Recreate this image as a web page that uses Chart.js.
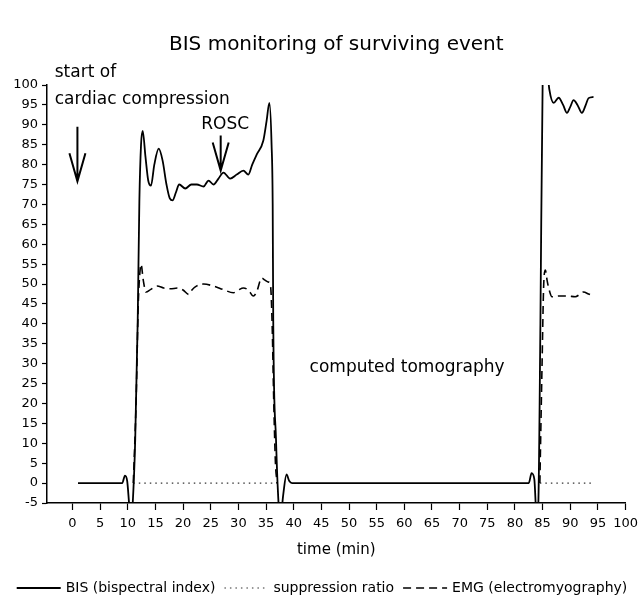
<!DOCTYPE html>
<html>
<head>
<meta charset="utf-8">
<script src="https://cdn.jsdelivr.net/npm/chart.js@4.4.1/dist/chart.umd.min.js"></script>
<style>
  html, body { margin: 0; padding: 0; background: #fff; }
  #wrap { width: 644px; height: 599px; }
</style>
</head>
<body>
<div id="wrap"><canvas id="bisChart"></canvas></div>
<script>
// BIS curve (min, value)
const bisTime = [1, 9.0, 9.5, 9.9, 10.3, 10.6, 10.9, 11.35, 11.8, 12.1, 12.4, 12.7, 13.2, 13.7, 14.2, 14.8, 15.6, 16.3, 17.0, 17.6, 18.1, 18.7, 19.3, 20.4, 21.5, 22.5, 23.7, 24.6, 25.5, 26.4, 27.3, 28.5, 29.7, 30.9, 31.8, 32.5, 33.3, 34.5, 35.1, 35.6, 36.0, 36.2, 36.3, 36.8, 37.3, 37.6, 38.1, 38.7, 39.2, 39.7, 82.5, 83.0, 83.5, 83.9, 84.2, 84.6, 85.0, 85.3, 85.8, 86.2, 87.0, 87.9, 88.7, 89.4, 90.0, 90.6, 91.3, 92.1, 92.8, 93.3, 94.2];
const bisValue = [0, 0, 1.9, 0.5, -6, -9, -5, 11, 41, 71, 85, 88.5, 82, 76, 74.7, 80, 84, 81, 75, 71.5, 71, 73, 75, 74, 75, 75, 74.5, 76, 75, 76.5, 78, 76.5, 77.5, 78.5, 77.5, 80, 82.5, 86, 91, 95.5, 85, 70, 41, 11, -6, -9, -3, 2.2, 0.5, 0, 0, 2.5, 1, -8, -6, 40, 100, 104, 104, 99, 95.5, 96.8, 95, 93, 94.5, 96.2, 95, 93, 95, 96.7, 97];

// suppression ratio (dotted)
const srTime = [11, 37, 60, 84.5, 94];
const srValue = [0, 0, null, 0, 0];

// EMG (dashed)
const emgTime = [11.0, 11.5, 11.9, 12.2, 12.4, 12.8, 13.3, 14.1, 15.3, 16.5, 17.7, 19.0, 20.0, 21.0, 21.6, 22.2, 23.7, 25.5, 27.3, 29.1, 30.0, 30.9, 31.8, 32.7, 33.3, 34.2, 34.8, 35.4, 35.8, 36.1, 36.4, 36.7, 37.0, 60, 84.5, 84.9, 85.2, 85.5, 85.8, 86.1, 86.7, 88.0, 89.5, 90.9, 91.8, 92.4, 93.3, 94.2];
const emgValue = [0, 20, 45, 53, 55, 51, 48, 48.6, 49.5, 49, 48.8, 49, 48.5, 47.4, 48.5, 49.3, 50, 49.5, 48.6, 47.8, 48.5, 49, 48.5, 47, 48, 51.5, 51, 50.5, 49.7, 40, 20, 5, 0, null, 0, 30, 50, 53.5, 51, 49, 46.8, 47, 47, 46.8, 47.5, 48, 47.5, 47];

const xTicks = [0, 5, 10, 15, 20, 25, 30, 35, 40, 45, 50, 55, 60, 65, 70, 75, 80, 85, 90, 95, 100];

const pts = (xs, ys) => xs.map((x, i) => ({ x: x, y: ys[i] }));

const FONT = 'DejaVu Sans';

// texte et flèches dessinés en coordonnées de données
const notes = [
  { text: 'start of', x: -3.2, y: 103.2, align: 'left' },
  { text: 'cardiac compression', x: -3.2, y: 96.3, align: 'left' },
  { text: 'ROSC', x: 27.6, y: 90, align: 'center' },
  { text: 'computed tomography', x: 60.5, y: 29, align: 'center' }
];
const arrows = [
  { x: 0.9, yFrom: 89.5, yTo: 75.8 },
  { x: 26.8, yFrom: 87.3, yTo: 78.5 }
];

const notesPlugin = {
  id: 'notes',
  afterDraw(chart) {
    const { ctx, chartArea, scales: { x, y } } = chart;
    ctx.save();
    ctx.fillStyle = '#000';
    ctx.strokeStyle = '#000';
    // titre
    ctx.font = '20px ' + FONT;
    ctx.textAlign = 'center';
    ctx.textBaseline = 'middle';
    ctx.fillText('BIS monitoring of surviving event', (chartArea.left + chartArea.right) / 2, 45);

    ctx.font = '17px ' + FONT;
    notes.forEach(n => {
      ctx.textAlign = n.align;
      ctx.fillText(n.text, x.getPixelForValue(n.x), y.getPixelForValue(n.y));
    });

    ctx.lineWidth = 2;
    arrows.forEach(a => {
      const px = x.getPixelForValue(a.x);
      const top = y.getPixelForValue(a.yFrom);
      const tip = y.getPixelForValue(a.yTo);
      ctx.beginPath();
      ctx.moveTo(px, top);
      ctx.lineTo(px, tip);
      ctx.moveTo(px - 8, tip - 28);
      ctx.lineTo(px, tip);
      ctx.lineTo(px + 8, tip - 28);
      ctx.stroke();
    });

    // légende en bas, une seule ligne
    ctx.font = '14px ' + FONT;
    ctx.textAlign = 'left';
    const lineW = 44, gapA = 5, gapB = 9;
    const items = chart.data.datasets;
    let total = 0;
    items.forEach((d, i) => {
      total += lineW + gapA + ctx.measureText(d.label).width + (i < items.length - 1 ? gapB : 0);
    });
    let lx = chart.width / 2 - total / 2;
    const ly = 588;
    [0, 1, 2].map(i => items[i]).forEach(d => {
      ctx.beginPath();
      ctx.lineWidth = d.borderWidth;
      ctx.strokeStyle = d.borderColor;
      ctx.setLineDash(d.borderDash || []);
      ctx.moveTo(lx, ly);
      ctx.lineTo(lx + lineW, ly);
      ctx.stroke();
      ctx.setLineDash([]);
      lx += lineW + gapA;
      ctx.fillText(d.label, lx, ly);
      lx += ctx.measureText(d.label).width + gapB;
    });
    ctx.restore();
  }
};

new Chart(document.getElementById('bisChart'), {
  type: 'line',
  data: {
    datasets: [
      {
        label: 'BIS (bispectral index)',
        data: pts(bisTime, bisValue),
        borderColor: '#000',
        borderWidth: 1.8,
        pointRadius: 0,
        cubicInterpolationMode: 'monotone',
        order: 0
      },
      {
        label: 'suppression ratio',
        data: pts(srTime, srValue),
        borderColor: '#333',
        borderWidth: 1.2,
        borderDash: [1.5, 4],
        pointRadius: 0,
        order: 2
      },
      {
        label: 'EMG (electromyography)',
        data: pts(emgTime, emgValue),
        borderColor: '#000',
        borderWidth: 1.6,
        borderDash: [8, 5],
        pointRadius: 0,
        cubicInterpolationMode: 'monotone',
        order: 1
      }
    ]
  },
  options: {
    responsive: true,
    maintainAspectRatio: false,
    animation: false,
    layout: { padding: { top: 85, left: 6, right: 15, bottom: 34 } },
    plugins: {
      title: { display: false },
      tooltip: { enabled: false },
      legend: { display: false }
    },
    scales: {
      x: {
        type: 'linear',
        min: -4.6,
        max: 100,
        afterBuildTicks: s => { s.ticks = xTicks.map(v => ({ value: v })); },
        afterFit: s => { s.height = 62; },
        ticks: { color: '#000', font: { family: FONT, size: 13 }, padding: 6, maxRotation: 0, autoSkip: false },
        grid: { drawOnChartArea: false, color: '#000', tickLength: 7, tickWidth: 1.2 },
        border: { color: '#000', width: 1.5 },
        title: { display: true, text: 'time (min)', color: '#000', font: { family: FONT, size: 15 }, padding: { top: 2, bottom: 6 } }
      },
      y: {
        min: -5,
        max: 100,
        afterFit: s => { s.width = 41; },
        ticks: { stepSize: 5, color: '#000', font: { family: FONT, size: 13 }, padding: 4 },
        grid: { drawOnChartArea: false, color: '#000', tickLength: 5, tickWidth: 1.2 },
        border: { color: '#000', width: 1.5 }
      }
    }
  },
  plugins: [notesPlugin]
});
</script>
</body>
</html>
